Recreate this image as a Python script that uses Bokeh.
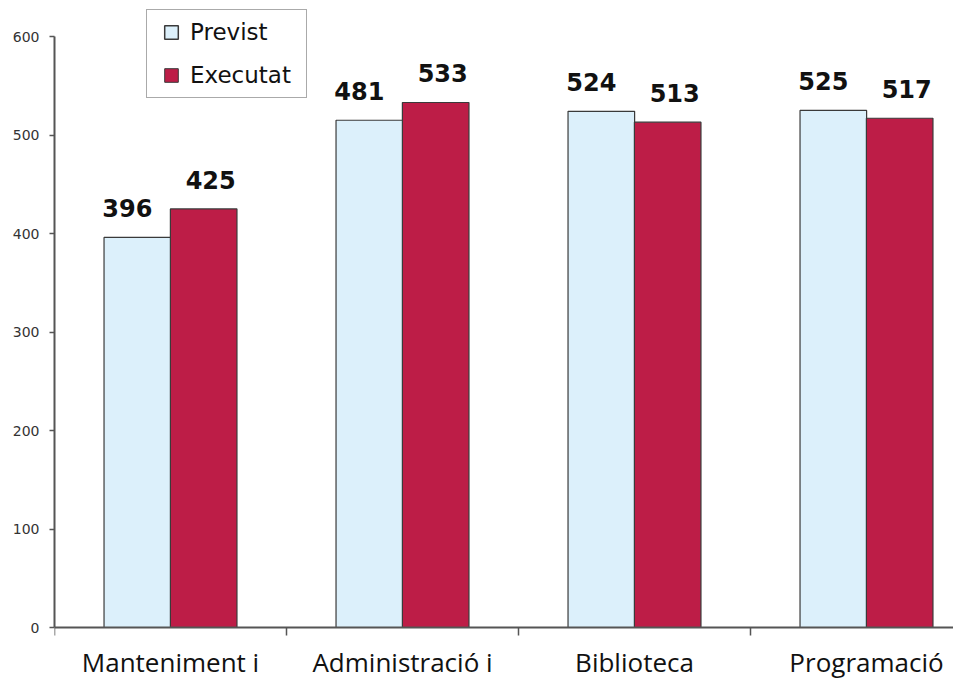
from bokeh.plotting import figure
from bokeh.models import FixedTicker, Legend, LegendItem, ColumnDataSource
from bokeh.core.properties import value
from bokeh.embed import file_html
from bokeh.resources import INLINE

categories = ["Manteniment i\nsubministres", "Administració i\natenció al soci", "Biblioteca", "Programació\nCultural"]
previst = [396, 515, 524, 525]
executat = [425, 533, 513, 517]
previst_labels = ["396", "481", "524", "525"]
executat_labels = ["425", "533", "513", "517"]
series_names = ["Previst", "Executat"]
y_ticks = [0, 100, 200, 300, 400, 500, 600]

C_PREV = "#dcf0fb"
C_EXEC = "#bd1d47"
C_EDGE = "#3a3a3a"

W, H = 953, 680
PX = 0.985          # pixels per unit on the value axis
Y0 = 627            # pixel row of value 0
XL = 54             # pixel column of the value axis
CAT = 232           # pixels per category

n = len(categories)
idx = list(range(n))
bar_w = 0.287
off = 0.143
lab_gap = 29 / PX

p = figure(width=W, height=H, output_backend="svg", toolbar_location=None,
           x_range=(0, (W - XL) / CAT), y_range=(-(H - Y0) / PX, Y0 / PX),
           min_border_left=XL, min_border_right=0, min_border_top=0, min_border_bottom=0)
p.outline_line_color = None
p.grid.grid_line_color = None
p.background_fill_color = "white"
p.border_fill_color = "white"

src_p = ColumnDataSource(dict(x=[i + 0.5 - off for i in idx], top=previst,
                              ly=[v + lab_gap for v in previst], lab=previst_labels))
src_e = ColumnDataSource(dict(x=[i + 0.5 + off for i in idx], top=executat,
                              ly=[v + lab_gap for v in executat], lab=executat_labels))

p.vbar(x="x", top="top", bottom=0, width=bar_w, source=src_p, fill_color=C_PREV,
       line_color=C_EDGE, line_width=1.2)
p.vbar(x="x", top="top", bottom=0, width=bar_w, source=src_e, fill_color=C_EXEC,
       line_color=C_EDGE, line_width=1.2)

p.text(x="x", y="ly", text="lab", source=src_p, x_offset=-10,
       text_align="center", text_baseline="alphabetic",
       text_font=value("DejaVu Sans"), text_font_style="bold", text_font_size="24px",
       text_color="#111111")
p.text(x="x", y="ly", text="lab", source=src_e, x_offset=7,
       text_align="center", text_baseline="alphabetic",
       text_font=value("DejaVu Sans"), text_font_style="bold", text_font_size="24px",
       text_color="#111111")

# category labels below the value-0 line
src_c = ColumnDataSource(dict(x=[i + 0.5 for i in idx], y=[0] * n, t=categories))
p.text(x="x", y="y", text="t", source=src_c, y_offset=16,
       text_align="center", text_baseline="top",
       text_font=value("Open Sans"), text_font_size="26px", text_color="#111111",
       text_line_height=1.05)

# value axis
p.yaxis.ticker = FixedTicker(ticks=y_ticks)
p.yaxis.bounds = (0, 600)
p.yaxis.major_tick_out = 5
p.yaxis.major_tick_in = 0
p.yaxis.minor_tick_out = 0
p.yaxis.minor_tick_in = 0
p.yaxis.axis_line_color = "#555555"
p.yaxis.axis_line_width = 2
p.yaxis.major_tick_line_color = "#555555"
p.yaxis.major_tick_line_width = 1.5
p.yaxis.major_label_text_font = "DejaVu Sans"
p.yaxis.major_label_text_font_size = "14px"
p.yaxis.major_label_text_color = "#333333"
p.yaxis.major_label_standoff = 10

# category axis sitting at value 0
p.xaxis.fixed_location = 0
p.xaxis.ticker = FixedTicker(ticks=[], minor_ticks=[0, 1, 2, 3, 4])
p.xaxis.major_tick_out = 0
p.xaxis.major_tick_in = 0
p.xaxis.minor_tick_out = 8
p.xaxis.minor_tick_in = 0
p.xaxis.minor_tick_line_color = "#555555"
p.xaxis.minor_tick_line_width = 1.5
p.xaxis.axis_line_color = "#555555"
p.xaxis.axis_line_width = 2
p.xaxis.major_label_text_font_size = "0px"

# legend swatches: zero-size square markers on the series data (only the legend shows them)
k1 = p.scatter(x="x", y="top", source=src_p, size=0, marker="square",
               fill_color=C_PREV, line_color=C_EDGE, line_width=1.5)
k2 = p.scatter(x="x", y="top", source=src_e, size=0, marker="square",
               fill_color=C_EXEC, line_color=C_EDGE, line_width=1.0)

legend = Legend(items=[LegendItem(label=series_names[0], renderers=[k1]),
                       LegendItem(label=series_names[1], renderers=[k2])],
                location=(146 - XL, H - 98))
legend.label_text_font = "DejaVu Sans"
legend.label_text_font_size = "23px"
legend.label_text_color = "#111111"
legend.glyph_width = 38
legend.glyph_height = 34
legend.label_standoff = 0
legend.label_width = 111
legend.padding = 5
legend.spacing = 9
legend.margin = 0
legend.border_line_color = "#555555"
legend.border_line_width = 1.5
legend.background_fill_color = "white"
p.add_layout(legend, "center")

open("out.html", "w").write(file_html(p, INLINE))
